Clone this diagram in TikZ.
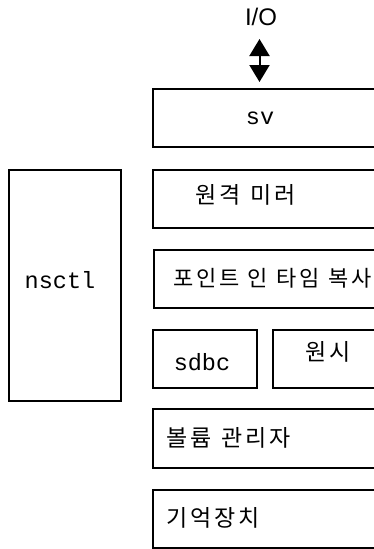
\documentclass[tikz,border=0pt]{standalone}
\usepackage{fontspec}
\setmainfont{Liberation Sans}
\newfontfamily\kr[LetterSpace=13,WordSpace=1.2]{Noto Sans CJK KR}
\newfontfamily\mono{Liberation Mono}
\usetikzlibrary{arrows.meta}
\tikzset{
  box/.style={draw, line width=2pt, rectangle},
  krtext/.style={inner sep=0pt, anchor=west, font=\kr\fontsize{23}{23}\selectfont},
  monotext/.style={inner sep=0pt, font=\mono\fontsize{23.5}{24}\selectfont},
  iotext/.style={inner sep=0pt, font=\fontsize{24}{24}\selectfont},
  bigarrow/.style={line width=2pt, {Triangle[width=20pt,length=17pt]}-{Triangle[width=20pt,length=17pt]}}
}
\begin{document}
\begin{tikzpicture}[x=1pt,y=-1pt]
\useasboundingbox (0,0) rectangle (374,549);
\clip (0,0) rectangle (374,549);
% boxes
\path[box] (153,89) rectangle (380,147) node[pos=0.5,inner sep=0pt] (svbox) {};
\path[box] (9,170) rectangle (121,401) node[pos=0.5,inner sep=0pt] (nsctlbox) {};
\path[box] (153,170) rectangle (380,228) node[pos=0.5,inner sep=0pt] (mirrorbox) {};
\path[box] (154,250) rectangle (380,308) node[pos=0.5,inner sep=0pt] (pitbox) {};
\path[box] (153,330) rectangle (257,388) node[pos=0.5,inner sep=0pt] (sdbcbox) {};
\path[box] (273,330) rectangle (380,388) node[pos=0.5,inner sep=0pt] (rawbox) {};
\path[box] (153,409) rectangle (380,468) node[pos=0.5,inner sep=0pt] (volbox) {};
\path[box] (153,490) rectangle (380,548) node[pos=0.5,inner sep=0pt] (storbox) {};
% texts
\node[iotext] (io) at (261,17) {I/O};
\node[monotext] (sv) at (260,118) {sv};
\node[monotext] (nsctl) at (60,280) {nsctl};
\node[monotext] (sdbc) at (202,362) {sdbc};
\node[krtext] (raw) at (305,352) {원시};
\node[krtext] (mirror) at (195,195) {원격 미러};
\node[krtext, font=\kr\fontsize{22}{22}\selectfont] (pit) at (173,278) {포인트 \kern-1pt인 \kern-1pt타임 \kern-1pt복사};
\node[krtext] (vol) at (166,438) {볼륨 관리자};
\node[krtext] (stor) at (166,518) {기억장치};
% arrow
\coordinate (atop) at (259.5,39);
\coordinate (abot) at (259.5,82);
\draw[bigarrow] (atop) -- (abot);
\end{tikzpicture}
\end{document}
